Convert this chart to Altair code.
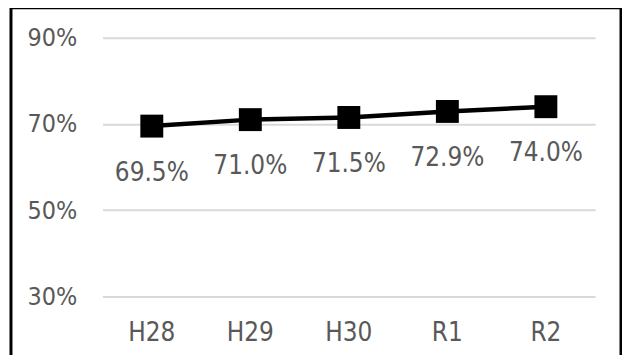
import altair as alt
import pandas as pd

years = ["H28", "H29", "H30", "R1", "R2"]
rates = [69.5, 71.0, 71.5, 72.9, 74.0]
labels = ["69.5%", "71.0%", "71.5%", "72.9%", "74.0%"]

df = pd.DataFrame({"year": years, "rate": rates, "label": labels})

FONT = "DejaVu Sans Condensed, Roboto, sans-serif"
GRAY = "#595959"

x = alt.X("year:N", sort=years, title=None,
          scale=alt.Scale(type="band", paddingInner=0, paddingOuter=0),
          axis=alt.Axis(labelAngle=0, domain=False, ticks=False, grid=False,
                        labelPadding=23, labelFontSize=26, labelColor=GRAY,
                        labelFont=FONT, labelBaseline="top"))
y = alt.Y("rate:Q", title=None,
          scale=alt.Scale(domain=[30, 90], nice=False, zero=False),
          axis=alt.Axis(values=[30, 50, 70, 90], labelExpr="datum.value + '%'",
                        domain=False, ticks=False, gridColor="#d9d9d9", gridWidth=2,
                        labelPadding=26, labelFontSize=25, labelColor=GRAY,
                        labelFont=FONT))

base = alt.Chart(df)

line = base.mark_line(color="black", strokeWidth=4.5).encode(x=x, y=y)
pts = base.mark_point(shape="square", size=530, filled=True, color="black", opacity=1).encode(x=x, y=y)
txt = base.mark_text(baseline="top", dy=34, fontSize=26, font=FONT, color=GRAY).encode(
    x=x, y=y, text="label:N")

border = alt.Chart(pd.DataFrame({"a": [0]})).mark_rect(
    fill=None, stroke="black", strokeWidth=3).encode(
    x=alt.value(-92), x2=alt.value(521), y=alt.value(-30), y2=alt.value(340))

chart = alt.layer(border, line, pts, txt).properties(
    width=495, height=260,
    background="white",
    autosize=alt.AutoSizeParams(type="none"),
    padding={"left": 95, "top": 29, "right": 27, "bottom": 58},
).configure_view(stroke=None)

chart.save("out.html", embed_options={"renderer": "svg", "actions": False})
